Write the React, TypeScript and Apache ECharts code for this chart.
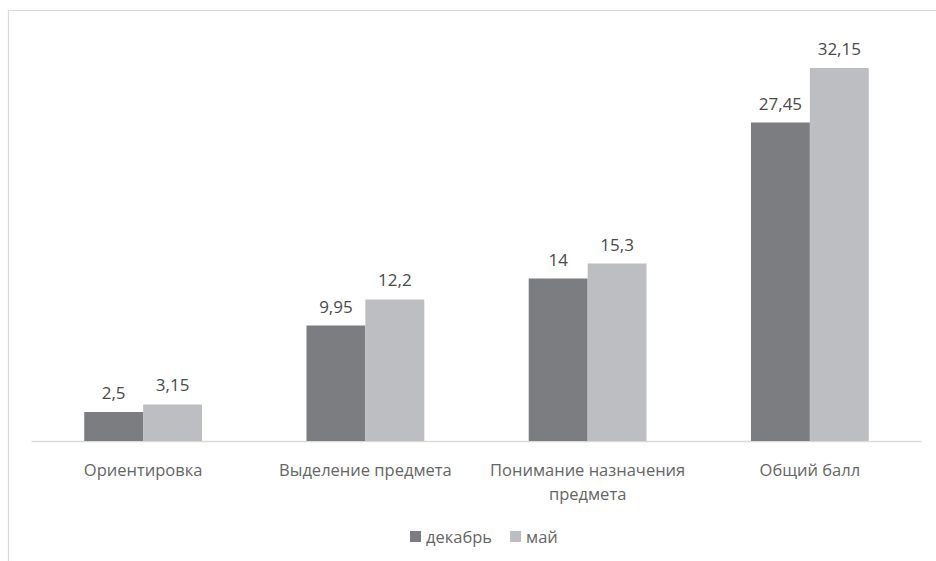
import React, { useEffect, useRef } from "react";
import * as echarts from "echarts";

const categories = ["Ориентировка", "Выделение предмета", "Понимание назначения предмета", "Общий балл"];
const decValues = [2.5, 9.95, 14, 27.45];
const mayValues = [3.15, 12.2, 15.3, 32.15];
const seriesNames = ["декабрь", "май"];

const FONT = "'Open Sans', 'Noto Sans', sans-serif";

function wrap(text: string, maxChars: number): string {
  const words = text.split(" ");
  const lines: string[] = [];
  let cur = "";
  for (const w of words) {
    if (cur && (cur + " " + w).length > maxChars) {
      lines.push(cur);
      cur = w;
    } else {
      cur = cur ? cur + " " + w : w;
    }
  }
  if (cur) lines.push(cur);
  return lines.join("\n");
}

export default function App() {
  const ref = useRef<HTMLDivElement>(null);
  useEffect(() => {
    const chart = echarts.init(ref.current!, undefined, { renderer: "svg" });
    const label = {
      show: true,
      position: "top",
      distance: 11,
      color: "#4a4a4a",
      fontSize: 17,
      fontFamily: FONT,
      formatter: (p: any) => String(p.value).replace(".", ","),
    };
    chart.setOption({
      animation: false,
      backgroundColor: "#ffffff",
      graphic: [
        {
          type: "rect",
          shape: { x: 8.5, y: 10.5, width: 960, height: 600 },
          style: { fill: "none", stroke: "#d9d9d9", lineWidth: 1.2 },
          silent: true,
        },
      ],
      grid: { left: 32, right: 15, top: 35, bottom: 120, containLabel: false },
      xAxis: {
        type: "category",
        data: categories,
        axisLine: { lineStyle: { color: "#d9d9d9", width: 1.3 } },
        axisTick: { show: false },
        axisLabel: {
          color: "#656565",
          fontSize: 16.5,
          fontFamily: FONT,
          margin: 16,
          lineHeight: 24,
          interval: 0,
          formatter: (v: string) => wrap(v, 22),
        },
      },
      yAxis: {
        type: "value",
        min: 0,
        max: 35,
        show: false,
        splitLine: { show: false },
      },
      legend: {
        data: seriesNames,
        top: 523,
        left: 405,
        itemWidth: 11,
        itemHeight: 11,
        itemGap: 18,
        icon: "rect",
        textStyle: { color: "#656565", fontSize: 16.5, fontFamily: FONT },
      },
      series: [
        {
          name: seriesNames[0],
          type: "bar",
          data: decValues,
          itemStyle: { color: "#7c7d81" },
          barGap: "0%",
          barCategoryGap: "47%",
          label,
        },
        {
          name: seriesNames[1],
          type: "bar",
          data: mayValues,
          itemStyle: { color: "#bdbec2" },
          barGap: "0%",
          barCategoryGap: "47%",
          label,
        },
      ],
    });
    return () => chart.dispose();
  }, []);
  return (
    <div
      ref={ref}
      style={{ position: "absolute", left: 0, top: 0, width: 936, height: 561 }}
    />
  );
}
